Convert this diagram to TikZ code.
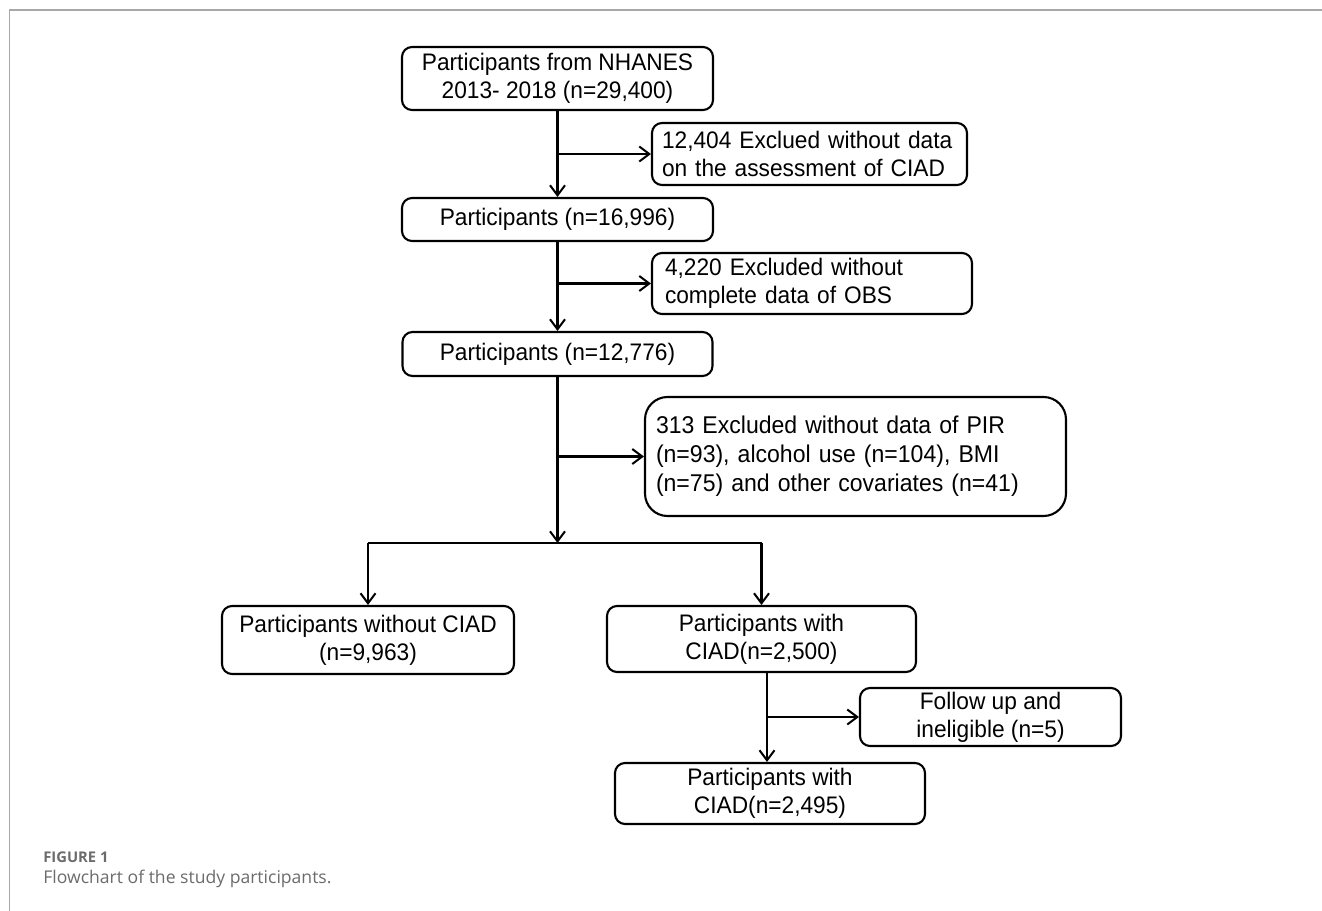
\documentclass[tikz,border=0pt]{standalone}
\usepackage{fontspec}
\setmainfont{Liberation Sans}[FakeStretch=0.95]
\newfontfamily\capfont{Open Sans}
\usetikzlibrary{arrows.meta,calc}
\definecolor{framegray}{HTML}{A8A8A8}
\definecolor{capgray}{HTML}{6B6B6B}

\begin{document}
\begin{tikzpicture}[
		box/.style={draw, line width=1.2pt, rounded corners=0.2cm, align=center, inner sep=0pt, font=\fontsize{13.6}{15.9}\selectfont},
		exbox/.style={box, align=left, inner xsep=0.2cm},
		arr/.style={line width=1.15pt, -{Straight Barb[length=2mm,width=3mm]}},
		link/.style={line width=1.15pt}
	]
			%%%%% START %%%%%
			
			\useasboundingbox (0, 0) rectangle (26.44, -18.22);
			\draw[framegray, line width=0.035cm] (0.19, -18.22) -- (0.19, -0.2) -- (26.44, -0.2);
			
			% main column
			\node[box, minimum width=6.22cm, minimum height=1.26cm] (start) at (11.15, -1.57) {Participants from NHANES\\2013- 2018 (n=29,400)};
			\node[box, minimum width=6.22cm, minimum height=0.86cm] (part1) at (11.15, -4.39) {Participants (n=16,996)};
			\node[box, minimum width=6.20cm, minimum height=0.88cm] (part2) at (11.15, -7.08) {Participants (n=12,776)};
			
			% exclusions
			\node[exbox, text width=5.90cm, minimum height=1.24cm] (excl1) at (16.19, -3.08) {12,404 Exclued without data\\on the assessment of CIAD};
			\node[exbox, inner xsep=0.26cm, text width=5.88cm, minimum height=1.22cm] (excl2) at (16.24, -5.67) {4,220 Excluded without\\complete data of OBS};
			\node[exbox, rounded corners=0.45cm, inner xsep=0.22cm, text width=7.98cm, minimum height=2.38cm, font=\fontsize{13.8}{16.4}\selectfont] (excl3) at (17.11, -9.13) {313 Excluded without data of PIR\\(n=93), alcohol use (n=104), BMI\\(n=75) and other covariates (n=41)};
			
			% groups
			\node[box, minimum width=5.84cm, minimum height=1.36cm] (nociad) at (7.36, -12.80) {Participants without CIAD\\(n=9,963)};
			\node[box, minimum width=6.18cm, minimum height=1.32cm] (ciad) at (15.23, -12.78) {Participants with\\CIAD(n=2,500)};
			\node[box, minimum width=5.22cm, minimum height=1.16cm] (excl4) at (19.81, -14.34) {Follow up and\\ineligible (n=5)};
			\node[box, minimum width=6.20cm, minimum height=1.22cm] (final) at (15.40, -15.87) {Participants with\\CIAD(n=2,495)};
			
			\coordinate (split) at (11.15, -10.86);
			
			\draw[arr] (start) -- (part1);
			\draw[arr] (start.south |- excl1.west) -- (excl1.west);
			\draw[arr] (part1) -- (part2);
			\draw[arr] (part1.south |- excl2.west) -- (excl2.west);
			\draw[arr] (part2.south) -- (split);
			\draw[arr] (part2.south |- excl3.west) -- (excl3.west);
			
			\draw[link] (nociad.north |- split) -- (ciad.north |- split);
			\draw[arr] (nociad.north |- split) -- (nociad.north);
			\draw[arr] (ciad.north |- split) -- (ciad.north);
			
			\draw[arr] ([xshift=0.11cm]ciad.south) -- ([xshift=0.11cm]ciad.south |- final.north);
			\draw[arr] ([xshift=0.11cm]ciad.south |- excl4.west) -- (excl4.west);
			
			% caption
			\node[anchor=west, inner sep=0pt, text=capgray, font=\capfont\bfseries\fontsize{8.4}{9}\selectfont] (figno) at (0.86, -17.14) {FIGURE 1};
			\node[anchor=west, inner sep=0pt, text=capgray, font=\capfont\fontsize{10}{12}\selectfont] (caption) at (0.86, -17.58) {Flowchart of the study participants.};
			
			%%%%% END %%%%%
		\end{tikzpicture}
\end{document}
